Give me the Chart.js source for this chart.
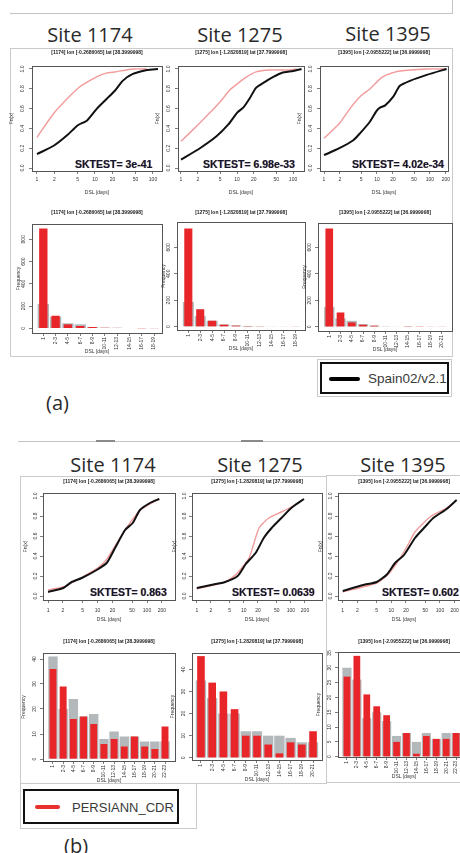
<!DOCTYPE html>
<html>
<head>
<meta charset="utf-8">
<title>DSL distributions - Spain02 vs products</title>
<script src="https://cdn.jsdelivr.net/npm/chart.js@4.4.1/dist/chart.umd.min.js"></script>
<style>
  html, body { margin: 0; padding: 0; background: #fff; }
  body { position: relative; width: 460px; height: 853px; overflow: hidden; font-family: 'Liberation Sans', Arial, sans-serif; }
  .panel { position: absolute; z-index: 1; }
  .panel canvas { display: block; }
  .frame { position: absolute; box-sizing: border-box; border: 1px solid #cacaca; }
  .rule { position: absolute; height: 1px; background: #c4c4c4; }
  .site { position: absolute; transform: translate(-50%, -50%); font-family: 'Open Sans', Lato, sans-serif; font-size: 20px; line-height: 1; color: #2a2a2a; white-space: nowrap; }
  .tag { position: absolute; transform: translateY(-50%); font-family: 'Open Sans', Lato, sans-serif; font-size: 20px; line-height: 1; color: #2a2a2a; }
  .sk { position: absolute; z-index: 3; transform: translateY(-50%); font: bold 10.5px 'Liberation Sans', Arial, sans-serif; line-height: 1; color: #161630; white-space: nowrap; text-shadow: -0.6px 0 rgba(235,150,20,.55), 0.6px 0 rgba(40,100,210,.55); }
  .legbox { position: absolute; box-sizing: border-box; border: 2px solid #111; background: #fff; }
  .legtxt { position: absolute; transform: translateY(-50%); font-family: 'Liberation Sans', Arial, sans-serif; line-height: 1; color: #3a3a3a; white-space: nowrap; }
</style>
</head>
<body>
<div id="stage">
  <!-- (a) -->
  <div class="rule" style="left:10px;top:13px;width:443px"></div>
  <div class="rule" style="left:452px;top:0;width:1px;height:14px"></div>
  <div class="frame" style="left:10px;top:48px;width:443px;height:309px"></div>
  <div class="site" style="left:90px;top:35px">Site 1174</div>
  <div class="site" style="left:240px;top:35px">Site 1275</div>
  <div class="site" style="left:388px;top:34px">Site 1395</div>
  <div class="sk" style="left:75px;top:164px">SKTEST= 3e-41</div>
  <div class="sk" style="left:203px;top:164px">SKTEST= 6.98e-33</div>
  <div class="sk" style="left:352px;top:164px">SKTEST= 4.02e-34</div>
  <div class="frame" style="left:317px;top:359px;width:135px;height:38px"></div>
  <div class="legbox" style="left:320px;top:362px;width:129px;height:32px"></div>
  <div style="position:absolute;left:329px;top:377px;width:31px;height:4px;background:#000;border-radius:2px"></div>
  <div class="legtxt" style="left:368px;top:379px;font-size:13.5px">Spain02/v2.1</div>
  <div class="tag" style="left:46px;top:403px">(a)</div>

  <!-- (b) -->
  <div class="rule" style="left:18px;top:441px;width:442px"></div>
  <div style="position:absolute;left:96px;top:440px;width:19px;height:2px;background:#8a8a8a"></div>
  <div style="position:absolute;left:241px;top:440px;width:22px;height:2px;background:#8a8a8a"></div>
  <div class="frame" style="left:20px;top:476px;width:307px;height:308px"></div>
  <div class="frame" style="left:326px;top:475px;width:150px;height:308px"></div>
  <div class="site" style="left:113px;top:465px">Site 1174</div>
  <div class="site" style="left:260px;top:465px">Site 1275</div>
  <div class="site" style="left:403px;top:465px">Site 1395</div>
  <div class="sk" style="left:90px;top:592px">SKTEST= 0.863</div>
  <div class="sk" style="left:232px;top:592px">SKTEST= 0.0639</div>
  <div class="sk" style="left:382px;top:592px">SKTEST= 0.602</div>
  <div class="frame" style="left:20px;top:783px;width:177px;height:46px"></div>
  <div class="legbox" style="left:23px;top:789px;width:156px;height:35px;border-width:2.5px"></div>
  <div style="position:absolute;left:35px;top:805px;width:25px;height:4px;background:#e8302f;border-radius:2px"></div>
  <div class="legtxt" style="left:72px;top:807px;font-size:13px">PERSIANN_CDR</div>
  <div class="tag" style="left:64px;top:846px">(b)</div>
</div>

<script>
// ---- values ----
const subtitles = [
  '[1174] lon [-0.2686065] lat [38.3999998]',
  '[1275] lon [-1.2820819] lat [37.7999998]',
  '[1395] lon [-2.0955222] lat [36.9999998]'
];
const cdfYTicks = [0, 0.2, 0.4, 0.6, 0.8, 1.0];
const cdfXTicks = [1, 2, 5, 10, 20, 50, 100];
const cdfXTicksLong = [1, 2, 5, 10, 20, 50, 100, 200];
const binLabels = ['1', '2-3', '4-5', '6-7', '8-9', '10-11', '12-13', '14-15', '16-17', '18-19', '20-21', '22-23', '24-25'];

// (a) empirical CDFs: black = Spain02, red = product
const obsX_a1174 = [1, 2, 3.3, 5, 7.3, 10.8, 16, 22, 30, 45, 79, 122];
const obsY_a1174 = [0.14, 0.23, 0.33, 0.43, 0.48, 0.60, 0.70, 0.78, 0.88, 0.95, 0.99, 1.0];
const prdX_a1174 = [1, 2, 5.2, 10.7, 15.9, 22, 45.6, 78];
const prdY_a1174 = [0.31, 0.56, 0.81, 0.92, 0.96, 0.97, 1.0, 1.0];

const obsX_a1275 = [1, 2.18, 4.3, 7.0, 10.1, 12.9, 17.1, 21.8, 29.5, 44.5, 62.8, 101, 142];
const obsY_a1275 = [0.085, 0.20, 0.32, 0.44, 0.56, 0.61, 0.71, 0.81, 0.86, 0.92, 0.96, 0.98, 1.0];
const prdX_a1275 = [1, 2.04, 3.3, 5.2, 7.5, 10.1, 14.9, 21.8, 38, 88, 116];
const prdY_a1275 = [0.27, 0.44, 0.56, 0.68, 0.79, 0.85, 0.92, 0.97, 0.99, 0.99, 1.0];

const obsX_a1395 = [1, 1.95, 3.57, 4.77, 7.4, 9.9, 11.4, 14.1, 20.3, 27, 41.9, 86.8, 206];
const obsY_a1395 = [0.13, 0.20, 0.28, 0.35, 0.47, 0.58, 0.61, 0.63, 0.72, 0.83, 0.88, 0.94, 1.0];
const prdX_a1395 = [1, 1.95, 3.09, 4.77, 7.4, 11.4, 15.2, 27, 86.8, 206];
const prdY_a1395 = [0.30, 0.45, 0.60, 0.72, 0.80, 0.90, 0.94, 0.98, 1.0, 1.0];

// (a) histograms: red = product, grey = Spain02
const red_a1174 = [897, 113, 36, 21, 12, 5, 4, 3, 1, 2];
const gry_a1174 = [218, 104, 45, 36, 12, 6, 5, 3, 2, 2];
const red_a1275 = [742, 132, 45, 15, 8, 5, 4, 3, 3, 2];
const gry_a1275 = [187, 80, 45, 17, 9, 6, 4, 3, 2, 2];
const red_a1395 = [742, 108, 33, 15, 8, 3, 3, 5, 1, 2, 2];
const gry_a1395 = [150, 63, 45, 20, 9, 4, 3, 3, 2, 2, 2];
const histTicks_a1174 = [0, 200, 400, 600, 800];
const histTicks_a = [0, 200, 400, 600];

// (b) empirical CDFs: black = Spain02, red = PERSIANN_CDR
const obsX_b1174 = [1, 2.04, 3, 4.8, 9.6, 15.3, 22.6, 36, 51.5, 72, 115, 177];
const obsY_b1174 = [0.04, 0.08, 0.14, 0.18, 0.26, 0.33, 0.48, 0.66, 0.73, 0.86, 0.93, 0.97];
const prdX_b1174 = [1, 2, 3, 5, 10, 15, 22, 35, 50, 70, 115, 177];
const prdY_b1174 = [0.06, 0.09, 0.13, 0.19, 0.28, 0.36, 0.49, 0.65, 0.76, 0.85, 0.92, 0.97];

const obsX_b1275 = [1, 2, 4, 7.4, 11, 17.8, 26.5, 39, 63, 102, 190];
const obsY_b1275 = [0.08, 0.11, 0.14, 0.20, 0.32, 0.43, 0.58, 0.68, 0.78, 0.88, 0.97];
const prdX_b1275 = [1, 4, 7, 12.9, 21, 34, 63, 102, 190];
const prdY_b1275 = [0.07, 0.14, 0.22, 0.38, 0.68, 0.78, 0.84, 0.89, 0.97];

const obsX_b1395 = [1, 2.65, 5.0, 8.3, 11.9, 18.2, 30.6, 49, 72.7, 137, 220];
const obsY_b1395 = [0.05, 0.11, 0.14, 0.22, 0.33, 0.41, 0.58, 0.69, 0.78, 0.87, 0.96];
const prdX_b1395 = [1, 5.0, 8.3, 12.9, 20.7, 30.6, 62.4, 137, 220];
const prdY_b1395 = [0.04, 0.13, 0.21, 0.33, 0.49, 0.64, 0.79, 0.88, 0.96];

// (b) histograms
const red_b1174 = [36, 29, 16, 17, 14, 6, 8, 5, 9, 5, 4, 13];
const gry_b1174 = [41, 20, 24, 17, 18, 8, 11, 9, 9, 7, 7, 7];
const red_b1275 = [46, 34, 30, 22, 10, 10, 6, 2, 7, 6, 12];
const gry_b1275 = [35, 27, 20, 20, 12, 12, 10, 10, 9, 7, 7];
const red_b1395 = [27, 34, 21, 17, 14, 5, 8, 1, 7, 6, 6, 8, 6];
const gry_b1395 = [30, 26, 13, 15, 12, 7, 8, 5, 8, 6, 8, 8, 6];
const histTicks_b = [0, 10, 20, 30, 40];
const histTicks_b1395 = [0, 5, 10, 15, 20, 25, 30, 35];

// ---- drawing ----
const tickFont = { family: "'Liberation Sans', Arial, sans-serif", size: 5 };
const ink = '#333';
const prodLine = '#f29b9b';

// R-style box round the plotting region
Chart.register({
  id: 'rbox',
  afterDraw(chart) {
    const a = chart.chartArea, ctx = chart.ctx;
    ctx.save();
    ctx.strokeStyle = '#555';
    ctx.lineWidth = 1;
    ctx.strokeRect(Math.round(a.left) + 0.5, Math.round(a.top) + 0.5, Math.round(a.right - a.left), Math.round(a.bottom - a.top));
    ctx.restore();
  }
});

function mount(g) {
  const left = g.l - g.yW, top = g.subY - 3;
  const w = (g.r - g.l) + g.yW + 3, h = (g.b - top) + g.xH;
  const div = document.createElement('div');
  div.className = 'panel';
  div.style.left = left + 'px';
  div.style.top = top + 'px';
  const cv = document.createElement('canvas');
  cv.width = w; cv.height = h;
  cv.style.width = w + 'px'; cv.style.height = h + 'px';
  div.appendChild(cv);
  document.getElementById('stage').appendChild(div);
  return cv;
}

function tickMarks() {
  return { display: true, drawOnChartArea: false, drawTicks: true, tickLength: 3, color: '#444', lineWidth: 0.7, offset: false };
}

function yAxis(g, min, max, vals, fmt, label) {
  return {
    type: 'linear', min, max,
    afterBuildTicks: s => { s.ticks = vals.map(v => ({ value: v })); },
    afterFit: s => { s.width = g.yW; s.paddingTop = 0; s.paddingBottom = 0; },
    grid: tickMarks(), border: { display: false },
    ticks: { font: tickFont, color: ink, padding: g.yPad, minRotation: 90, maxRotation: 90, crossAlign: 'center', callback: fmt },
    title: { display: true, text: label, font: tickFont, color: ink, padding: 0 }
  };
}

function xTitle() {
  return { display: true, text: 'DSL [days]', font: tickFont, color: ink, padding: 0 };
}

function common(g, sub) {
  return {
    responsive: false, animation: false, devicePixelRatio: 1, events: [],
    layout: { padding: { top: 0, left: 0, right: 3, bottom: 0 } },
    plugins: {
      legend: { display: false }, tooltip: { enabled: false },
      title: { display: true, text: sub, fullSize: false, color: '#222',
        font: { family: "'Liberation Sans', Arial, sans-serif", size: 5, weight: 'bold' },
        padding: { top: 0, bottom: g.t - g.subY - 3 } }
    }
  };
}

function cdfChart(g, sub, xTicks, obsX, obsY, prdX, prdY) {
  const opts = common(g, sub);
  opts.scales = {
    x: {
      type: 'logarithmic', min: g.xMin, max: g.xMax,
      afterBuildTicks: s => { s.ticks = xTicks.map(v => ({ value: v })); },
      afterFit: s => { s.height = g.xH; s.paddingLeft = 0; s.paddingRight = 0; },
      grid: tickMarks(), border: { display: false },
      ticks: { font: tickFont, color: ink, padding: g.xPad, autoSkip: false, maxRotation: 0, callback: v => String(v) },
      title: xTitle()
    },
    y: yAxis(g, g.yMin, g.yMax, cdfYTicks, v => v.toFixed(1), 'Fn(x)')
  };
  new Chart(mount(g), {
    type: 'line',
    data: { datasets: [
      { data: obsX.map((x, i) => ({ x, y: obsY[i] })), borderColor: '#111', borderWidth: 2, pointRadius: 0, tension: 0.2 },
      { data: prdX.map((x, i) => ({ x, y: prdY[i] })), borderColor: prodLine, borderWidth: 1.4, pointRadius: 0, tension: 0.2 }
    ] },
    options: opts
  });
}

function histChart(g, sub, yTicks, red, gry) {
  const opts = common(g, sub);
  opts.scales = {
    x: {
      type: 'linear', offset: false, min: g.xMin, max: g.xMax,
      afterBuildTicks: s => { s.ticks = red.map((_, i) => ({ value: i })); },
      afterFit: s => { s.height = g.xH; s.paddingLeft = 0; s.paddingRight = 0; },
      grid: tickMarks(), border: { display: false },
      ticks: { font: tickFont, color: ink, padding: 1, autoSkip: false, minRotation: 90, maxRotation: 90, callback: v => binLabels[v] },
      title: xTitle()
    },
    y: yAxis(g, g.yMin, g.yMax, yTicks, v => String(v), 'Frequency')
  };
  new Chart(mount(g), {
    type: 'bar',
    data: { datasets: [
      { data: red.map((v, i) => ({ x: i, y: v })), backgroundColor: '#e8262a', grouped: false, categoryPercentage: 1, barPercentage: 0.68 },
      { data: gry.map((v, i) => ({ x: i, y: v })), backgroundColor: '#b3b8bb', grouped: false, categoryPercentage: 1, barPercentage: 0.92 }
    ] },
    options: opts
  });
}

// panel geometry (plot boxes in page pixels) and axis ranges
const cdfA = { t: 66, b: 171, subY: 53, yW: 23, yPad: 3, xH: 25, xPad: 3, yMin: -0.03, yMax: 1.03 };
const histA = { subY: 213, yW: 16, yPad: 1, xH: 22 };
const cdfB = { t: 493, b: 600, subY: 482, yW: 20, yPad: 1, xH: 23, xPad: 5, yMin: -0.04, yMax: 1.03 };
const histB = { subY: 642, yW: 22, yPad: 3, xH: 23 };

cdfChart({ ...cdfA, l: 32, r: 162, xMin: 0.82, xMax: 143 }, subtitles[0], cdfXTicks, obsX_a1174, obsY_a1174, prdX_a1174, prdY_a1174);
cdfChart({ ...cdfA, l: 178, r: 304, xMin: 0.884, xMax: 157 }, subtitles[1], cdfXTicks, obsX_a1275, obsY_a1275, prdX_a1275, prdY_a1275);
cdfChart({ ...cdfA, l: 320, r: 448, xMin: 0.84, xMax: 219 }, subtitles[2], cdfXTicksLong, obsX_a1395, obsY_a1395, prdX_a1395, prdY_a1395);

histChart({ ...histA, l: 32, r: 162, t: 224, b: 333, yMin: -42, yMax: 937, xMin: -0.92, xMax: 9.65 }, subtitles[0], histTicks_a1174, red_a1174, gry_a1174);
histChart({ ...histA, l: 177, r: 305, t: 222, b: 330, yMin: -25, yMax: 791, xMin: -0.95, xMax: 9.8 }, subtitles[1], histTicks_a, red_a1275, gry_a1275);
histChart({ ...histA, l: 318, r: 452, t: 223, b: 331, yMin: -32, yMax: 784, xMin: -1.0, xMax: 10.9 }, subtitles[2], histTicks_a, red_a1395, gry_a1395);

cdfChart({ ...cdfB, l: 43, r: 175, xMin: 0.79, xMax: 368 }, subtitles[0], cdfXTicksLong, obsX_b1174, obsY_b1174, prdX_b1174, prdY_b1174);
cdfChart({ ...cdfB, l: 192, r: 322, xMin: 0.79, xMax: 460 }, subtitles[1], cdfXTicksLong, obsX_b1275, obsY_b1275, prdX_b1275, prdY_b1275);
cdfChart({ ...cdfB, l: 338, r: 470, xMin: 0.80, xMax: 414 }, subtitles[2], cdfXTicksLong, obsX_b1395, obsY_b1395, prdX_b1395, prdY_b1395);

histChart({ ...histB, l: 43, r: 175, t: 653, b: 761, yMin: -0.8, yMax: 42.4, xMin: -0.98, xMax: 11.98 }, subtitles[0], histTicks_b, red_b1174, gry_b1174);
histChart({ ...histB, l: 192, r: 322, t: 653, b: 760, yMin: -1.0, yMax: 47.4, xMin: -0.8, xMax: 10.8 }, subtitles[1], histTicks_b, red_b1275, gry_b1275);
histChart({ ...histB, l: 338, r: 470, t: 652, b: 757, yMin: -0.1, yMax: 35.3, xMin: -0.9, xMax: 12.4 }, subtitles[2], histTicks_b1395, red_b1395, gry_b1395);
</script>
</body>
</html>
